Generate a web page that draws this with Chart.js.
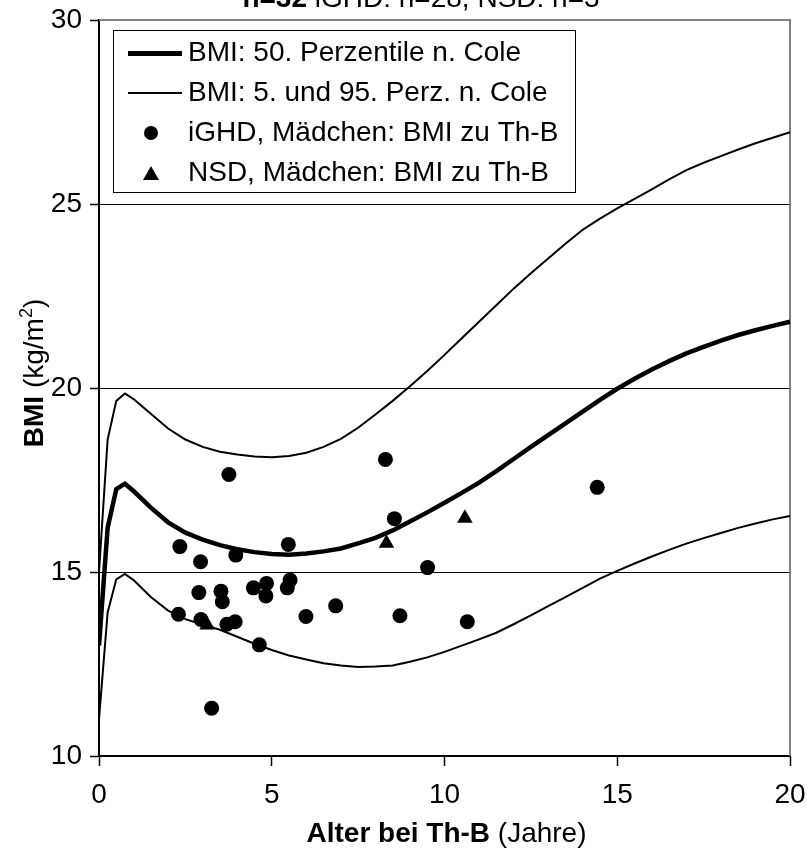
<!DOCTYPE html>
<html>
<head>
<meta charset="utf-8">
<script src="https://cdn.jsdelivr.net/npm/chart.js@4.4.1/dist/chart.umd.min.js"></script>
<style>
  html, body { margin: 0; padding: 0; background: #fff; }
  #bmiChart { display: block; }
</style>
</head>
<body>
<canvas id="bmiChart" width="810" height="850"></canvas>
<script>
// Altersraster der Cole-Perzentilen (Jahre)
var coleAge = [0, 0.25, 0.5, 0.75, 1, 1.5, 2, 2.5, 3, 3.5, 4, 4.5, 5, 5.5, 6, 6.5, 7, 7.5, 8, 8.5,
    9, 9.5, 10, 10.5, 11, 11.5, 12, 12.5, 13, 13.5, 14, 14.5, 15, 15.5, 16, 16.5, 17, 17.5, 18, 18.5,
    19, 19.5, 20, 20.2];
// BMI-Perzentilen Mädchen n. Cole (kg/m²)
var cole50 = [13.0, 16.2, 17.25, 17.4, 17.2, 16.75, 16.35, 16.07, 15.88, 15.73, 15.62, 15.54, 15.49, 15.47, 15.5, 15.56,
    15.64, 15.78, 15.93, 16.13, 16.37, 16.62, 16.88, 17.15, 17.43, 17.74, 18.07, 18.4, 18.72, 19.04, 19.36, 19.68,
    19.98, 20.25, 20.5, 20.73, 20.94, 21.12, 21.29, 21.44, 21.57, 21.69, 21.8, 21.84];
var cole5 = [11.0, 13.9, 14.8, 14.95, 14.78, 14.32, 13.95, 13.72, 13.57, 13.43, 13.24, 13.05, 12.88, 12.73, 12.62, 12.52,
    12.46, 12.42, 12.43, 12.46, 12.56, 12.68, 12.83, 13.0, 13.17, 13.35, 13.58, 13.82, 14.07, 14.32, 14.57, 14.82,
    15.03, 15.23, 15.42, 15.6, 15.77, 15.92, 16.06, 16.2, 16.32, 16.43, 16.52, 16.56];
var cole95 = [15.0, 18.6, 19.65, 19.85, 19.7, 19.3, 18.9, 18.6, 18.4, 18.27, 18.19, 18.14, 18.12, 18.15, 18.24, 18.4,
    18.62, 18.92, 19.28, 19.65, 20.05, 20.46, 20.9, 21.35, 21.8, 22.25, 22.7, 23.12, 23.52, 23.92, 24.3, 24.6,
    24.88, 25.14, 25.4, 25.67, 25.92, 26.12, 26.3, 26.48, 26.65, 26.8, 26.95, 27.0];

// iGHD Mädchen: Alter und BMI zu Th-B
var ighdAge = [2.34, 2.94, 3.96, 5.48, 8.29, 8.55, 9.51, 14.42, 2.89, 3.53, 3.57, 4.47, 4.85, 4.83,
    5.53, 5.45, 6.85, 5.99, 8.71, 10.66, 2.30, 2.95, 3.70, 3.94, 4.64, 3.26, 3.76];
var ighdBmi = [15.69, 15.28, 15.46, 15.75, 18.06, 16.45, 15.12, 17.30, 14.44, 14.48, 14.19, 14.57, 14.69, 14.35,
    14.78, 14.57, 14.08, 13.79, 13.81, 13.65, 13.85, 13.71, 13.58, 13.65, 13.02, 11.30, 17.65];

// NSD Mädchen: Alter und BMI zu Th-B
var nsdAge = [3.13, 8.32, 10.59];
var nsdBmi = [13.56, 15.78, 16.46];

var xTicks = [0, 5, 10, 15, 20];
var yTicks = [10, 15, 20, 25, 30];

var fontFamily = "'Liberation Sans', Arial, sans-serif";
Chart.defaults.font.family = fontFamily;
Chart.defaults.font.size = 28;
Chart.defaults.color = '#000';

function toPoints(xs, ys) {
    return xs.map(function (x, i) { return { x: x, y: ys[i] }; });
}

// kleine Symbole fuer die Legende
function legendSymbol(kind) {
    var c = document.createElement('canvas');
    var g;
    if (kind === 'thick' || kind === 'thin') {
        var h = kind === 'thick' ? 5 : 2;
        c.width = 62; c.height = h;
        g = c.getContext('2d');
        g.fillStyle = '#000';
        g.fillRect(8, 0, 54, h);
    } else if (kind === 'circle') {
        c.width = 18; c.height = 18;
        g = c.getContext('2d');
        g.fillStyle = '#000';
        g.beginPath(); g.arc(9, 9, 7, 0, Math.PI * 2); g.fill();
    } else {
        c.width = 20; c.height = 18;
        g = c.getContext('2d');
        g.fillStyle = '#000';
        g.beginPath(); g.moveTo(10, 2); g.lineTo(18, 16); g.lineTo(2, 16); g.closePath(); g.fill();
    }
    return c;
}
var legendSymbols = [legendSymbol('thick'), legendSymbol('thin'), null, legendSymbol('circle'), legendSymbol('triangle')];

function drawRich(ctx, parts, cx, baseline) {
    var total = 0;
    parts.forEach(function (p) {
        ctx.font = p.font;
        p.w = ctx.measureText(p.text).width;
        total += p.w;
    });
    var x = cx - total / 2;
    ctx.textAlign = 'left';
    ctx.textBaseline = 'alphabetic';
    parts.forEach(function (p) {
        ctx.font = p.font;
        ctx.fillText(p.text, x, baseline + (p.dy || 0));
        x += p.w;
    });
}

// keine automatische Randerweiterung durch die Achsenbeschriftung
function noScalePadding(scale) {
    scale.paddingLeft = 0;
    scale.paddingRight = 0;
    scale.paddingTop = 0;
    scale.paddingBottom = 0;
}

var chartDeco = {
    id: 'chartDeco',
    afterLayout: function (chart) {
        // Legende in die linke obere Ecke des Diagrammbereichs
        chart.legend.left = chart.chartArea.left + 17;
        chart.legend.top = chart.chartArea.top + 7;
    },
    beforeDatasetsDraw: function (chart) {
        var ctx = chart.ctx, a = chart.chartArea;
        ctx.save();
        ctx.strokeStyle = '#808080';
        ctx.lineWidth = 2;
        ctx.beginPath();
        ctx.moveTo(a.left, a.top);
        ctx.lineTo(a.right, a.top);
        ctx.lineTo(a.right, a.bottom);
        ctx.stroke();
        ctx.restore();
    },
    afterDraw: function (chart) {
        var ctx = chart.ctx, a = chart.chartArea;
        var lg = chart.legend;
        var pad = lg.options.labels.padding;
        var fs = 28;
        ctx.save();
        // Rahmen der Legende
        var maxW = 0;
        lg.legendHitBoxes.forEach(function (h) { maxW = Math.max(maxW, h.width); });
        var n = lg.legendItems.length;
        var x0 = lg.left - 3, y0 = lg.top + 3;
        var x1 = lg.left + pad + maxW + 17;
        var y1 = lg.top + pad + n * (fs + pad) - pad + 5;
        ctx.strokeStyle = '#000';
        ctx.lineWidth = 1;
        ctx.strokeRect(Math.round(x0) + 0.5, Math.round(y0) + 0.5, Math.round(x1 - x0), Math.round(y1 - y0));

        ctx.fillStyle = '#000';
        var bold = 'bold 28px ' + fontFamily;
        var normal = '28px ' + fontFamily;
        // Titel (oben abgeschnitten)
        drawRich(ctx, [{ text: 'n=32', font: bold }, { text: ' iGHD: n=28, NSD: n=3', font: normal }], 421, 7);
        // x-Achsentitel
        drawRich(ctx, [{ text: 'Alter bei Th-B', font: bold }, { text: ' (Jahre)', font: normal }],
            (a.left + a.right) / 2 + 2, 842);
        // y-Achsentitel
        ctx.translate(43, 373);
        ctx.rotate(-Math.PI / 2);
        drawRich(ctx, [{ text: 'BMI', font: bold }, { text: ' (kg/m', font: normal },
            { text: '2', font: '18px ' + fontFamily, dy: -11 }, { text: ')', font: normal }], 0, 0);
        ctx.restore();
    }
};

var bmiChart = new Chart(document.getElementById('bmiChart'), {
    type: 'scatter',
    data: {
        datasets: [
            {
                label: 'BMI: 50. Perzentile n. Cole',
                data: toPoints(coleAge, cole50),
                showLine: true,
                borderColor: '#000',
                borderWidth: 4.5,
                pointRadius: 0,
                tension: 0,
                order: 1,
                clip: { left: 0, top: 0, right: 10, bottom: 0 }
            },
            {
                label: 'BMI: 5. und 95. Perz. n. Cole',
                data: toPoints(coleAge, cole95),
                showLine: true,
                borderColor: '#000',
                borderWidth: 2,
                pointRadius: 0,
                tension: 0,
                order: 1,
                clip: { left: 0, top: 0, right: 10, bottom: 0 }
            },
            {
                label: '',
                data: toPoints(coleAge, cole5),
                showLine: true,
                borderColor: '#000',
                borderWidth: 2,
                pointRadius: 0,
                tension: 0,
                order: 1,
                clip: { left: 0, top: 0, right: 10, bottom: 0 }
            },
            {
                label: 'iGHD, Mädchen: BMI zu Th-B',
                data: toPoints(ighdAge, ighdBmi),
                pointStyle: 'circle',
                pointRadius: 7.5,
                backgroundColor: '#000',
                borderWidth: 0,
                order: 0
            },
            {
                label: 'NSD, Mädchen: BMI zu Th-B',
                data: toPoints(nsdAge, nsdBmi),
                pointStyle: 'triangle',
                pointRadius: 9,
                backgroundColor: '#000',
                borderWidth: 0,
                order: 0
            }
        ]
    },
    options: {
        responsive: false,
        animation: false,
        events: [],
        layout: { padding: { left: 0, top: 20, right: 20, bottom: 0 } },
        plugins: {
            title: { display: false },
            tooltip: { enabled: false },
            legend: {
                position: 'chartArea',
                align: 'start',
                labels: {
                    usePointStyle: true,
                    pointStyleWidth: 46,
                    padding: 12,
                    color: '#000',
                    font: { size: 28 },
                    generateLabels: function (chart) {
                        var items = [];
                        chart.data.datasets.forEach(function (ds, i) {
                            if (!ds.label) return;
                            items.push({
                                text: ds.label,
                                pointStyle: legendSymbols[i],
                                datasetIndex: i,
                                hidden: false,
                                lineWidth: 0,
                                strokeStyle: 'rgba(0,0,0,0)',
                                fillStyle: 'rgba(0,0,0,0)',
                                fontColor: '#000'
                            });
                        });
                        return items;
                    }
                }
            }
        },
        scales: {
            x: {
                type: 'linear',
                min: 0,
                max: 20,
                afterFit: function (scale) { scale.height = 94; noScalePadding(scale); },
                afterBuildTicks: function (scale) {
                    scale.ticks = xTicks.map(function (v) { return { value: v }; });
                },
                ticks: { padding: 12, font: { size: 28 }, color: '#000', maxRotation: 0 },
                grid: {
                    drawOnChartArea: false,
                    drawTicks: true,
                    tickLength: 10,
                    tickColor: '#000',
                    tickWidth: 1.5
                },
                border: { color: '#000', width: 2 }
            },
            y: {
                type: 'linear',
                min: 10,
                max: 30,
                afterFit: function (scale) { scale.width = 99; noScalePadding(scale); },
                afterBuildTicks: function (scale) {
                    scale.ticks = yTicks.map(function (v) { return { value: v }; });
                },
                ticks: { padding: 8, font: { size: 28 }, color: '#000' },
                grid: {
                    color: function (c) {
                        return c.tick && c.tick.value === 30 ? 'rgba(0,0,0,0)' : '#000';
                    },
                    lineWidth: 1,
                    tickLength: 9,
                    tickColor: '#000',
                    tickWidth: 1.5
                },
                border: { color: '#000', width: 2 }
            }
        }
    },
    plugins: [chartDeco]
});
</script>
</body>
</html>
